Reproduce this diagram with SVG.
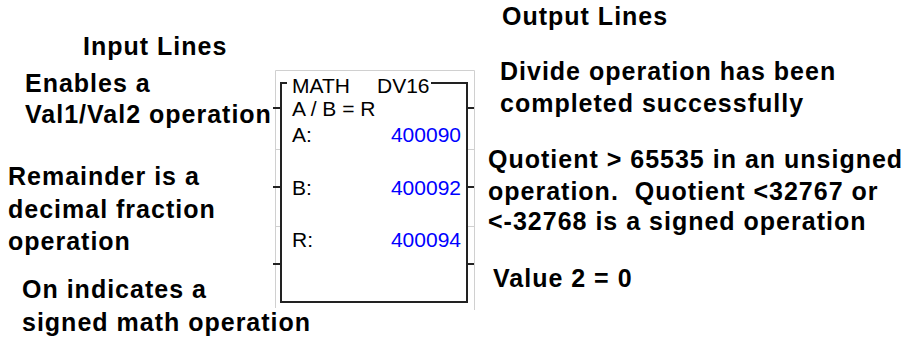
<svg xmlns="http://www.w3.org/2000/svg" width="908" height="343" viewBox="0 0 908 343">
<style>
.lbl{font-family:"Liberation Sans",Arial,sans-serif;font-weight:bold;font-size:25px;letter-spacing:1px;fill:#000;white-space:pre}
.box{font-family:"Liberation Sans",Arial,sans-serif;font-size:21px;fill:#000}
.num{font-family:"Liberation Sans",Arial,sans-serif;font-size:21px;fill:#0000ff;text-anchor:end}
.gray{stroke:#d0d0d0;stroke-width:1;fill:none}
.frame{stroke:#222;stroke-width:2;fill:none}
.tick{stroke:#222;stroke-width:2}
</style>
<rect width="908" height="343" fill="#fff"/>
<g id="titles">
<text class="lbl" x="83" y="55">Input Lines</text>
<text class="lbl" x="502" y="25">Output Lines</text>
</g>
<g id="input-labels">
<text class="lbl" x="25" y="92">Enables a</text>
<text class="lbl" x="25" y="123">Val1/Val2 operation</text>
<text class="lbl" x="8" y="185">Remainder is a</text>
<text class="lbl" x="8" y="218">decimal fraction</text>
<text class="lbl" x="8" y="250">operation</text>
<text class="lbl" x="22" y="298">On indicates a</text>
<text class="lbl" x="22" y="331">signed math operation</text>
</g>
<g id="output-labels">
<text class="lbl" x="500" y="80">Divide operation has been</text>
<text class="lbl" x="500" y="112">completed successfully</text>
<text class="lbl" x="488" y="168">Quotient &gt; 65535 in an unsigned</text>
<text class="lbl" x="488" y="200" xml:space="preserve">operation.  Quotient &lt;32767 or</text>
<text class="lbl" x="488" y="230">&lt;-32768 is a signed operation</text>
<text class="lbl" x="493" y="287">Value 2 = 0</text>
</g>
<g id="dv16-block">
<path class="gray" d="M275.5 308V70.5H474.5V310"/>
<path class="gray" d="M275.5 149.5H280M275.5 226.5H280M467 149.5H474.5M467 226.5H474.5"/>
<path class="frame" d="M287 83H281V302H467V83H431"/>
<text class="box" x="292" y="93">MATH</text>
<text class="box" x="377" y="93">DV16</text>
<text class="box" x="292" y="116">A / B = R</text>
<text class="box" x="292" y="142">A:</text>
<text class="num" x="461" y="142">400090</text>
<text class="box" x="292" y="195">B:</text>
<text class="num" x="461" y="195">400092</text>
<text class="box" x="292" y="247">R:</text>
<text class="num" x="461" y="247">400094</text>
</g>
<g id="connectors">
<path class="tick" d="M273 108H281M273 187H281M273 264H281"/>
<path class="tick" d="M467 108H474M467 187H474M467 264H474"/>
</g>
</svg>
